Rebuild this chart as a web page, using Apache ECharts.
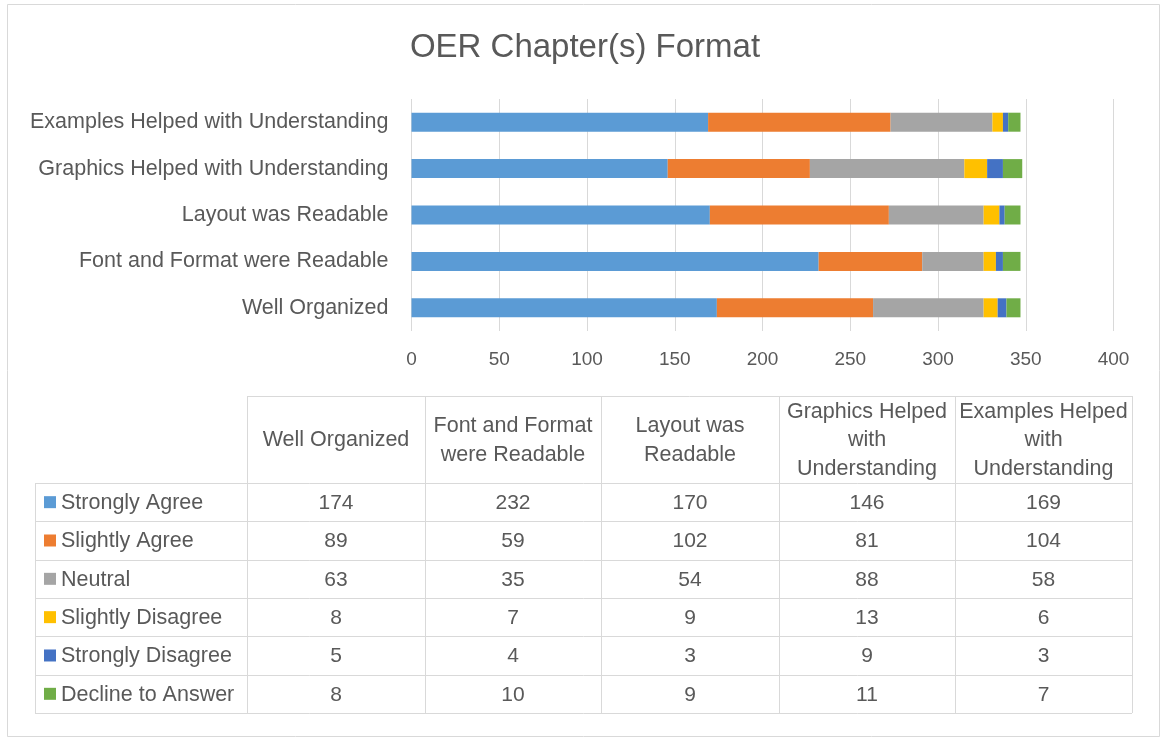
<!DOCTYPE html>
<html>
<head>
<meta charset="utf-8">
<script src="https://cdn.jsdelivr.net/npm/echarts@6/dist/echarts.min.js"></script>
<style>
  html, body { margin: 0; padding: 0; background: #fff; }
  #main { width: 1161px; height: 740px; }
</style>
</head>
<body>
<div id="main"></div>
<script>
// categories, bottom to top on the chart, left to right in the table
const categories = [
  "Well Organized",
  "Font and Format were Readable",
  "Layout was Readable",
  "Graphics Helped with Understanding",
  "Examples Helped with Understanding"
];
const headerLines = [
  ["Well Organized"],
  ["Font and Format", "were Readable"],
  ["Layout was", "Readable"],
  ["Graphics Helped", "with", "Understanding"],
  ["Examples Helped", "with", "Understanding"]
];

const seriesNames = ["Strongly Agree", "Slightly Agree", "Neutral", "Slightly Disagree", "Strongly Disagree", "Decline to Answer"];
const seriesColors = ["#5B9BD5", "#ED7D31", "#A5A5A5", "#FFC000", "#4472C4", "#70AD47"];

const stronglyAgree = [174, 232, 170, 146, 169];
const slightlyAgree = [89, 59, 102, 81, 104];
const neutral = [63, 35, 54, 88, 58];
const slightlyDisagree = [8, 7, 9, 13, 6];
const stronglyDisagree = [5, 4, 3, 9, 3];
const declineToAnswer = [8, 10, 9, 11, 7];
const seriesValues = [stronglyAgree, slightlyAgree, neutral, slightlyDisagree, stronglyDisagree, declineToAnswer];

const xMin = 0, xMax = 400, xStep = 50;

const FONT = "Liberation Sans";
const TEXT = "#595959";
const LINE = "#d9d9d9";

// data table layout
const colX = [35, 247, 425, 601, 779, 955, 1132];
const headTop = 396;
const rowTop = 483;
const rowH = 38.33;

function buildTable() {
  const g = [];
  const bottom = rowTop + rowH * seriesNames.length;
  // outer chart border
  g.push({ type: "rect", shape: { x: 7.5, y: 4.5, width: 1152, height: 732 },
    style: { fill: null, stroke: LINE, lineWidth: 1 } });
  // header top line
  g.push({ type: "line", shape: { x1: colX[1], y1: headTop + 0.5, x2: colX[6], y2: headTop + 0.5 },
    style: { stroke: LINE, lineWidth: 1 } });
  // row lines
  for (let i = 0; i <= seriesNames.length; i++) {
    const y = Math.round(rowTop + rowH * i) + 0.5;
    g.push({ type: "line", shape: { x1: colX[0], y1: y, x2: colX[6], y2: y },
      style: { stroke: LINE, lineWidth: 1 } });
  }
  // column lines
  for (let c = 0; c < colX.length; c++) {
    const y1 = c === 0 ? rowTop : headTop;
    g.push({ type: "line", shape: { x1: colX[c] + 0.5, y1: y1, x2: colX[c] + 0.5, y2: Math.round(bottom) },
      style: { stroke: LINE, lineWidth: 1 } });
  }
  // headers
  for (let c = 0; c < headerLines.length; c++) {
    g.push({ type: "text", x: (colX[c + 1] + colX[c + 2]) / 2, y: (headTop + rowTop) / 2 + 1,
      style: { text: headerLines[c].join("\n"), fill: TEXT, font: "21.5px '" + FONT + "'",
        align: "center", verticalAlign: "middle", lineHeight: 28.5 } });
  }
  // legend keys + values
  for (let r = 0; r < seriesNames.length; r++) {
    const cy = rowTop + rowH * r + rowH / 2;
    g.push({ type: "rect", shape: { x: 44, y: cy - 6, width: 12, height: 12 },
      style: { fill: seriesColors[r] } });
    g.push({ type: "text", x: 61, y: cy + 1,
      style: { text: seriesNames[r], fill: TEXT, font: "21.5px '" + FONT + "'",
        align: "left", verticalAlign: "middle" } });
    for (let c = 0; c < categories.length; c++) {
      g.push({ type: "text", x: (colX[c + 1] + colX[c + 2]) / 2, y: cy + 1,
        style: { text: String(seriesValues[r][c]), fill: TEXT, font: "21px '" + FONT + "'",
          align: "center", verticalAlign: "middle" } });
    }
  }
  return g;
}

const chart = echarts.init(document.getElementById("main"));
chart.setOption({
  animation: false,
  backgroundColor: "#fff",
  textStyle: { fontFamily: FONT },
  title: {
    text: "OER Chapter(s) Format",
    left: 580,
    textAlign: "center",
    top: 26,
    textStyle: { color: TEXT, fontSize: 33, fontWeight: "normal", fontFamily: FONT }
  },
  legend: { show: false },
  grid: { left: 411.5, right: 47.5, top: 99, bottom: 409, containLabel: false },
  xAxis: {
    type: "value",
    min: xMin,
    max: xMax,
    interval: xStep,
    axisLine: { show: false },
    axisTick: { show: false },
    splitLine: { show: true, lineStyle: { color: LINE, width: 1 } },
    axisLabel: { color: TEXT, fontSize: 19, margin: 19, fontFamily: FONT }
  },
  yAxis: {
    type: "category",
    data: categories,
    axisLine: { show: false },
    axisTick: { show: false },
    axisLabel: { color: TEXT, fontSize: 21.5, margin: 23, fontFamily: FONT }
  },
  series: seriesNames.map((name, i) => ({
    name: name,
    type: "bar",
    stack: "total",
    barWidth: 19,
    data: seriesValues[i],
    itemStyle: { color: seriesColors[i] }
  })),
  graphic: buildTable()
});
</script>
</body>
</html>
